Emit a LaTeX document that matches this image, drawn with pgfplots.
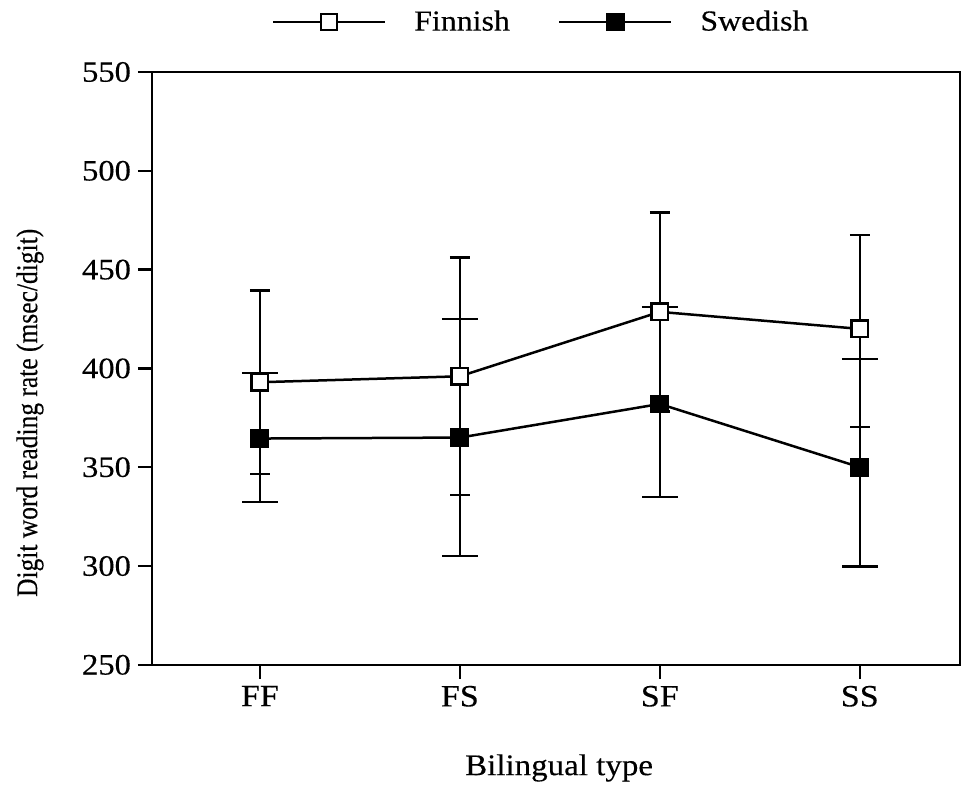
\documentclass[border=0pt]{standalone}
\usepackage{fontspec}
\setmainfont[FakeStretch=1.1, FakeBold=0.3]{Liberation Serif}
\newfontfamily\ylabfont[FakeStretch=0.85, FakeBold=0.3]{Liberation Serif}
\usepackage{pgfplots}
\pgfplotsset{compat=1.18}
\begin{document}
\begin{tikzpicture}
\begin{axis}[
  scale only axis, width=404pt, height=296.5pt,
  xmin=-0.54, xmax=3.5, ymin=250, ymax=550,
  xtick={0,1,2,3}, xticklabels={FF,FS,SF,SS},
  ytick={250,300,...,550},
  tick align=outside, xtick pos=bottom, ytick pos=left,
  major tick length=7pt,
  axis line style={line width=1.25pt},
  every tick/.style={line width=1.25pt, black},
  /pgf/number format/assume math mode=true,
  yticklabel style={font=\fontsize{14.8}{17}\selectfont},
  xticklabel style={font=\fontsize{15.5}{18}\selectfont},
  xlabel={Bilingual type},
  ylabel={Digit word reading rate (msec/digit)},
  xlabel style={at={(axis description cs:0.504,-0.174)}, anchor=center, font=\fontsize{15}{18}\selectfont},
  ylabel style={at={(axis description cs:-0.151,0.425)}, anchor=center, font=\ylabfont\fontsize{15}{18}\selectfont},
  legend columns=2,
  legend style={draw=none, fill=none, at={(axis description cs:0.483,1)}, anchor=center, yshift=25pt,
    font=\fontsize{14.5}{17}\selectfont,
    /tikz/every even column/.append style={column sep=22pt},
    /tikz/every odd column/.append style={column sep=12pt}},
  legend image code/.code={\draw[mark repeat=2,mark phase=2,#1] plot coordinates {(0pt,0pt) (28pt,0pt) (56pt,0pt)};},
]
\addplot[black, line width=1.25pt, mark=square*, mark size=4.1pt, mark options={fill=white, solid},
  error bars/.cd, y dir=both, y explicit,
  error bar style={line width=1.25pt},
  error mark options={rotate=90, mark size=5pt, line width=1.25pt}]
  coordinates {
  (0,393) +- (0,46.5)
  (1,396) +- (0,60)
  (2,428.6) +- (0,50.4)
  (3,420) += (0,47.6) -= (0,49.7)
  };
\addlegendentry{Finnish}
\addplot[black, line width=1.25pt, mark=square*, mark size=4.1pt, mark options={fill=black, solid},
  error bars/.cd, y dir=both, y explicit,
  error bar style={line width=1.25pt},
  error mark options={rotate=90, mark size=9pt, line width=1.25pt}]
  coordinates {
  (0,364.5) += (0,33.2) -= (0,32)
  (1,365) +- (0,60)
  (2,382) += (0,49) -= (0,47)
  (3,350) += (0,54.7) -= (0,50.2)
  };
\addlegendentry{Swedish}
\end{axis}
\path (-76pt,-58pt) rectangle (404.5pt,332.5pt);
\end{tikzpicture}
\end{document}
